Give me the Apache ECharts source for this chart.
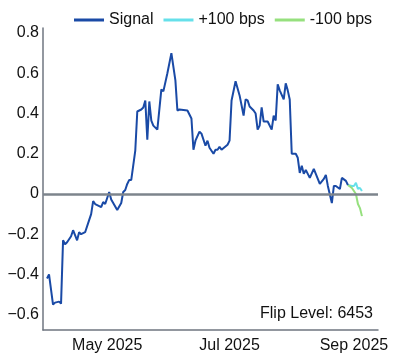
<!DOCTYPE html>
<html>
<head>
<meta charset="utf-8">
<script src="https://cdn.jsdelivr.net/npm/echarts@6/dist/echarts.min.js"></script>
<style>html,body{margin:0;padding:0;background:#fff}#c{width:417px;height:357px}</style>
</head>
<body>
<div id="c"></div>
<script>
const signalDates = ['2025-04-01','2025-04-02','2025-04-04','2025-04-05','2025-04-07','2025-04-08','2025-04-09','2025-04-10','2025-04-11','2025-04-13','2025-04-14','2025-04-16','2025-04-17','2025-04-18','2025-04-20','2025-04-22','2025-04-23','2025-04-24','2025-04-25','2025-04-28','2025-04-29','2025-04-30','2025-05-02','2025-05-03','2025-05-06','2025-05-08','2025-05-09','2025-05-10','2025-05-11','2025-05-12','2025-05-13','2025-05-15','2025-05-16','2025-05-18','2025-05-19','2025-05-20','2025-05-21','2025-05-22','2025-05-23','2025-05-24','2025-05-26','2025-05-28','2025-05-29','2025-05-31','2025-06-02','2025-06-04','2025-06-05','2025-06-06','2025-06-10','2025-06-12','2025-06-13','2025-06-14','2025-06-16','2025-06-17','2025-06-19','2025-06-20','2025-06-21','2025-06-23','2025-06-24','2025-06-25','2025-06-26','2025-06-27','2025-06-30','2025-07-01','2025-07-02','2025-07-04','2025-07-06','2025-07-08','2025-07-09','2025-07-10','2025-07-11','2025-07-13','2025-07-14','2025-07-15','2025-07-16','2025-07-17','2025-07-18','2025-07-20','2025-07-22','2025-07-23','2025-07-24','2025-07-25','2025-07-26','2025-07-28','2025-07-29','2025-07-30','2025-07-31','2025-08-01','2025-08-03','2025-08-04','2025-08-05','2025-08-06','2025-08-07','2025-08-08','2025-08-09','2025-08-10','2025-08-12','2025-08-13','2025-08-15','2025-08-17','2025-08-18','2025-08-19','2025-08-21','2025-08-22','2025-08-23','2025-08-25','2025-08-26','2025-08-28','2025-08-29'];
const signalValues = [-0.42,-0.40,-0.55,-0.54,-0.535,-0.545,-0.23,-0.25,-0.24,-0.21,-0.18,-0.23,-0.19,-0.20,-0.19,-0.13,-0.10,-0.035,-0.05,-0.065,-0.04,-0.05,0.01,-0.027,-0.08,-0.045,0.01,0.02,0.05,0.07,0.07,0.215,0.41,0.42,0.43,0.465,0.27,0.46,0.365,0.34,0.32,0.52,0.51,0.60,0.70,0.565,0.415,0.42,0.415,0.375,0.22,0.265,0.31,0.30,0.24,0.265,0.23,0.20,0.22,0.22,0.235,0.22,0.245,0.265,0.465,0.56,0.49,0.39,0.47,0.465,0.435,0.415,0.40,0.32,0.34,0.43,0.36,0.36,0.32,0.39,0.365,0.545,0.515,0.47,0.55,0.515,0.47,0.20,0.20,0.18,0.105,0.14,0.10,0.12,0.10,0.08,0.125,0.10,0.05,0.075,0.095,0.04,-0.045,0.04,0.04,0.025,0.08,0.065,0.045];
const scenarioDates = ['2025-08-29','2025-08-31','2025-09-01','2025-09-02','2025-09-03','2025-09-04','2025-09-05'];
const upValues = [0.045,0.04,0.04,0.055,0.025,0.03,0.015];
const downValues = [0.045,0.03,0.015,0.0,-0.05,-0.07,-0.11];
const xTickDates = ['2025-05-01','2025-07-01','2025-09-01'];
const yTickValues = [-0.6,-0.4,-0.2,0,0.2,0.4,0.6,0.8];
const flipLevel = 6453;
const seriesNames = ['Signal','+100 bps','-100 bps'];

const months = ['Jan','Feb','Mar','Apr','May','Jun','Jul','Aug','Sep','Oct','Nov','Dec'];
function ts(s){ const p = s.split('-').map(Number); return Date.UTC(p[0], p[1]-1, p[2]); }
function pairs(d, v){ return d.map((x,i)=>[ts(x), v[i]]); }

const font = 'Liberation Sans, Arial, sans-serif';
const chart = echarts.init(document.getElementById('c'), null, {renderer:'canvas'});
chart.setOption({
  animation: false,
  grid: {left: 43, right: 39, top: 28, bottom: 27, containLabel: false},
  legend: {
    left: 69, top: 7, itemWidth: 30, itemHeight: 3, itemGap: 10, icon: 'rect',
    textStyle: {fontFamily: font, fontSize: 16, color: '#111'},
    data: seriesNames
  },
  xAxis: {
    type: 'value',
    min: ts('2025-03-30'), max: ts('2025-09-13'),
    axisLine: {show: true, onZero: false, lineStyle: {color: '#6f7680', width: 1.5}},
    axisTick: {show: false},
    splitLine: {show: false},
    axisLabel: {
      customValues: xTickDates.map(ts),
      formatter: v => { const d = new Date(v); return months[d.getUTCMonth()] + ' ' + d.getUTCFullYear(); },
      fontFamily: font, fontSize: 16, color: '#111', margin: 8
    }
  },
  yAxis: {
    type: 'value', min: -0.676, max: 0.825,
    axisLine: {show: true, lineStyle: {color: '#6f7680', width: 1.5}},
    axisTick: {show: false},
    splitLine: {show: false},
    axisLabel: {
      customValues: yTickValues,
      formatter: v => { const r = Math.round(v*10)/10; return r < 0 ? '\u2212' + Math.abs(r) : String(r); },
      fontFamily: font, fontSize: 16, color: '#111', margin: 4
    }
  },
  series: [
    {
      name: seriesNames[0], type: 'line', data: pairs(signalDates, signalValues),
      showSymbol: false, lineStyle: {color: '#1a4aa6', width: 2}, itemStyle: {color: '#1a4aa6'},
      z: 3,
      markLine: {
        silent: true, symbol: 'none', label: {show: false},
        lineStyle: {color: '#7d848c', width: 2.5, type: 'solid'},
        data: [{yAxis: 0}]
      }
    },
    {
      name: seriesNames[1], type: 'line', data: pairs(scenarioDates, upValues),
      showSymbol: false, lineStyle: {color: '#66e0ea', width: 2}, itemStyle: {color: '#66e0ea'}, z: 2
    },
    {
      name: seriesNames[2], type: 'line', data: pairs(scenarioDates, downValues),
      showSymbol: false, lineStyle: {color: '#96e07e', width: 2}, itemStyle: {color: '#96e07e'}, z: 2
    }
  ],
  graphic: [{
    type: 'text', right: 44, top: 306,
    style: {text: 'Flip Level: ' + flipLevel, font: '16px ' + font, fill: '#111'}
  }]
});
</script>
</body>
</html>
